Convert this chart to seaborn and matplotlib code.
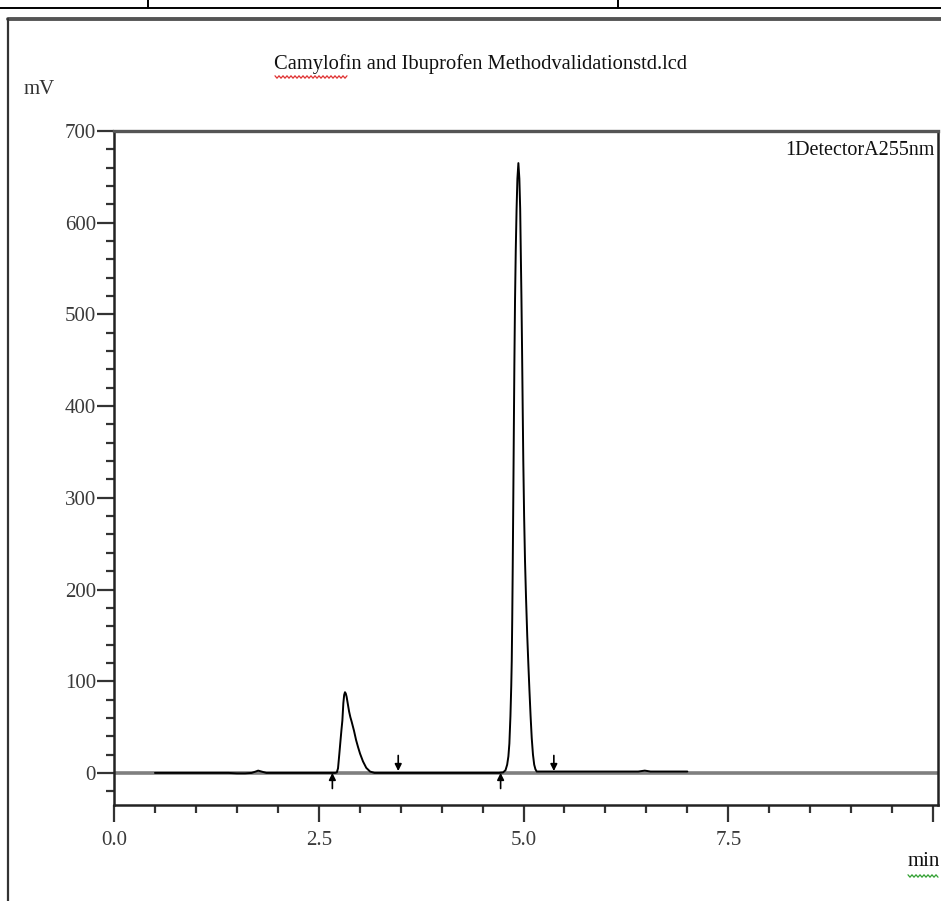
import numpy as np
import matplotlib
matplotlib.use("Agg")
import matplotlib.pyplot as plt
from matplotlib.lines import Line2D
from matplotlib.ticker import MultipleLocator, FixedLocator
import seaborn as sns

# chromatogram trace (time in min, signal in mV)
time_min = [0.50, 1.00, 1.40, 1.50, 1.60, 1.68, 1.73, 1.76, 1.80, 1.86, 2.00, 2.40, 2.60,
            2.70, 2.72, 2.735, 2.751, 2.765, 2.777, 2.788, 2.800, 2.810, 2.820, 2.830, 2.840,
            2.855, 2.870, 2.885, 2.901, 2.930, 2.955, 2.980, 3.004, 3.040, 3.080, 3.126, 3.180,
            3.50, 4.00, 4.50, 4.70, 4.75, 4.78, 4.80, 4.815, 4.827, 4.840, 4.850, 4.856, 4.862,
            4.868, 4.875, 4.882, 4.888, 4.896, 4.905, 4.915, 4.925, 4.937, 4.949, 4.959,
            4.966, 4.974, 4.982, 4.990, 4.997, 5.007, 5.018, 5.030, 5.045, 5.059, 5.072,
            5.086, 5.100, 5.115, 5.130, 5.145, 5.161, 5.20, 5.60, 6.00, 6.40, 6.48, 6.55, 7.00]
signal_mv = [0.0, 0.0, 0.0, -0.5, -0.5, 0.0, 1.5, 2.5, 1.5, 0.0, 0.0, 0.0, 0.0,
             0.0, 0.5, 5.0, 20.7, 35.0, 47.0, 57.0, 76.0, 85.0, 88.0, 86.5, 83.0,
             75.0, 67.0, 61.0, 56.0, 46.0, 36.0, 28.0, 21.0, 12.5, 5.5, 1.5, 0.0,
             0.0, 0.0, 0.0, 0.0, 0.5, 3.0, 9.0, 18.0, 32.0, 62.0, 95.0, 122.0, 168.0,
             225.0, 300.0, 380.0, 445.0, 515.0, 570.0, 615.0, 648.0, 665.0, 648.0, 615.0,
             570.0, 520.0, 461.0, 395.0, 340.0, 280.0, 231.0, 192.0, 150.0, 118.0, 90.0,
             62.0, 38.0, 20.0, 9.0, 4.0, 1.5, 1.5, 1.5, 1.5, 1.5, 2.5, 1.5, 1.5]

# integration start / end marks
peak_start = [2.666, 4.72]
peak_end = [3.47, 5.37]

x_major = [0.0, 2.5, 5.0, 7.5, 10.0]
x_labels = ["0.0", "2.5", "5.0", "7.5", ""]
y_major = [0, 100, 200, 300, 400, 500, 600, 700]

title = "Camylofin and Ibuprofen Methodvalidationstd.lcd"
channel = "1DetectorA255nm"

sns.set_style("ticks")
plt.rcParams["font.family"] = ["Liberation Serif", "DejaVu Serif"]

W, H = 941, 901
fig = plt.figure(figsize=(W / 100, H / 100), dpi=100)
ax = fig.add_axes([114 / W, 1 - 805 / H, (938 - 114) / W, (805 - 131) / H])

ax.axhline(0, color="#7f7f7f", lw=2.6, zorder=1)
sns.lineplot(x=time_min, y=signal_mv, ax=ax, color="black", lw=1.4,
             sort=False, estimator=None, zorder=3)

for t in peak_start:
    ax.annotate("", xy=(t, 0), xytext=(t, -17),
                arrowprops=dict(arrowstyle="-|>", color="black", lw=1.2,
                                mutation_scale=10, shrinkA=0, shrinkB=0))
for t in peak_end:
    ax.annotate("", xy=(t, 2), xytext=(t, 19),
                arrowprops=dict(arrowstyle="-|>", color="black", lw=1.2,
                                mutation_scale=10, shrinkA=0, shrinkB=0))

ax.set_xlim(0, 10.06)
ax.set_ylim(-35, 700)
ax.xaxis.set_major_locator(FixedLocator(x_major))
ax.set_xticklabels(x_labels)
ax.xaxis.set_minor_locator(MultipleLocator(0.5))
ax.set_yticks(y_major)
ax.set_yticklabels([str(v) for v in y_major])
ax.yaxis.set_minor_locator(MultipleLocator(20))

tick_col = "#333333"
ax.tick_params(axis="both", which="major", length=12, width=1.6, color=tick_col,
               labelsize=15, labelcolor="#3a3a3a")
ax.tick_params(axis="both", which="minor", length=6, width=1.6, color=tick_col)
ax.tick_params(axis="x", which="major", pad=7)
ax.tick_params(axis="y", which="major", pad=1)

for side in ["left", "bottom", "right"]:
    ax.spines[side].set_color("#222222")
    ax.spines[side].set_linewidth(1.8)
ax.spines["top"].set_color("#555555")
ax.spines["top"].set_linewidth(2.4)
ax.set_xlabel("")
ax.set_ylabel("")

ax.text(0.996, 0.985, channel, transform=ax.transAxes, ha="right", va="top",
        fontsize=14.5, color="#111111")

fig.text(481 / W, 1 - 64 / H, title, ha="center", va="center", fontsize=14.8,
         color="#111111")
fig.text(39 / W, 1 - 90 / H, "mV", ha="center", va="center", fontsize=15,
         color="#333333")
fig.text(924 / W, 1 - 862 / H, "min", ha="center", va="center", fontsize=15,
         color="#111111")

# page frame around the figure
def px_line(xs, ys, **kw):
    fig.add_artist(Line2D([x / W for x in xs], [1 - y / H for y in ys], **kw))

px_line([0, W], [7.5, 7.5], color="black", lw=1.4)
px_line([148, 148], [0, 7.5], color="black", lw=1.4)
px_line([618, 618], [0, 7.5], color="black", lw=1.4)
px_line([8, W], [19, 19], color="#555555", lw=2.8)
px_line([8, 8], [19, H], color="#333333", lw=1.6)

# spell-check squiggles
def squiggle(x0, x1, y, color):
    xs = np.arange(x0, x1 + 1, 2.0)
    ys = y + np.where(np.arange(len(xs)) % 2 == 0, -1.2, 1.2)
    px_line(xs, ys, color=color, lw=0.9)

squiggle(275, 347, 77, "#e03030")
squiggle(908, 938, 876, "#30a030")

fig.savefig("out.png", dpi=100)
